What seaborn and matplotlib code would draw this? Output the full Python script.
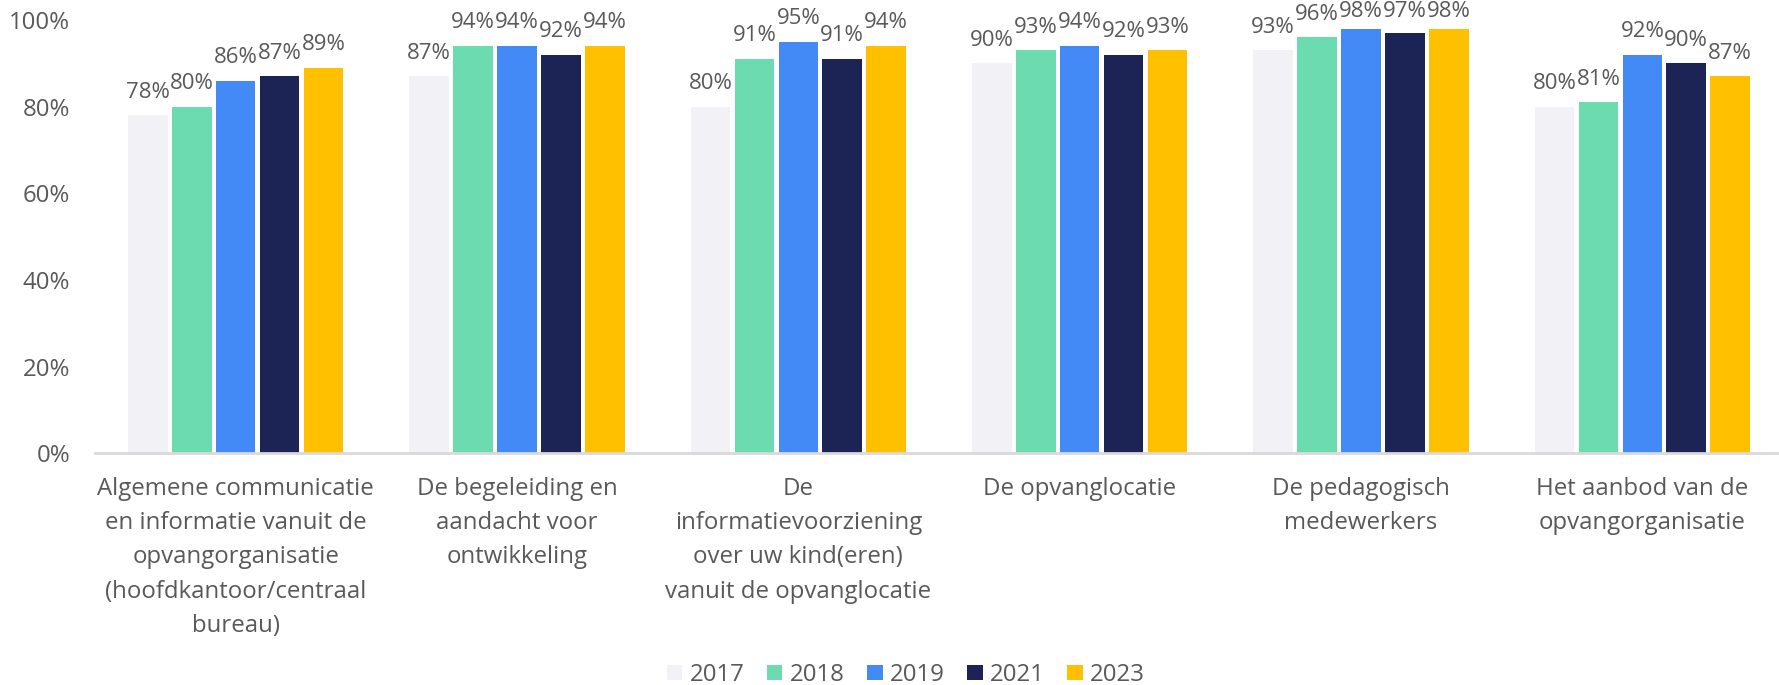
import matplotlib
matplotlib.use("Agg")
import matplotlib.pyplot as plt
import seaborn as sns
import pandas as pd
from matplotlib.patches import Patch

categories = [
    "Algemene communicatie\nen informatie vanuit de\nopvangorganisatie\n(hoofdkantoor/centraal\nbureau)",
    "De begeleiding en\naandacht voor\nontwikkeling",
    "De\ninformatievoorziening\nover uw kind(eren)\nvanuit de opvanglocatie",
    "De opvanglocatie",
    "De pedagogisch\nmedewerkers",
    "Het aanbod van de\nopvangorganisatie",
]
years = ["2017", "2018", "2019", "2021", "2023"]
v2017 = [78, 87, 80, 90, 93, 80]
v2018 = [80, 94, 91, 93, 96, 81]
v2019 = [86, 94, 95, 94, 98, 92]
v2021 = [87, 92, 91, 92, 97, 90]
v2023 = [89, 94, 94, 93, 98, 87]
colors = ["#F1F1F6", "#6CDCB0", "#448AF7", "#1B2455", "#FFC000"]

series = [v2017, v2018, v2019, v2021, v2023]
rows = []
for y, vals in zip(years, series):
    for c, v in zip(categories, vals):
        rows.append({"cat": c, "year": y, "val": v})
df = pd.DataFrame(rows)

sns.set_theme(style="white")
plt.rcParams["font.family"] = ["Open Sans", "DejaVu Sans"]
TXT = "#595959"
FS_X = 17.3
FS_Y = 17.3
FS_LBL = 16.0
FS_LEG = 17.3

fig = plt.figure(figsize=(17.79, 6.85), dpi=100)
ax = fig.add_axes([95 / 1779, (685 - 453.3) / 685, 1688 / 1779, (453.3 - 20) / 685])

sns.barplot(data=df, x="cat", y="val", hue="year", order=categories, hue_order=years,
            palette=colors, saturation=1, width=0.78, gap=0.1, linewidth=0, ax=ax, legend=False)

ax.set_ylim(0, 100)
ax.set_xlim(-0.5, 5.5)
ax.set_yticks([0, 20, 40, 60, 80, 100])
ax.set_yticklabels([f"{t}%" for t in [0, 20, 40, 60, 80, 100]])
ax.set_xlabel("")
ax.set_ylabel("")
for s in ["top", "right", "left"]:
    ax.spines[s].set_visible(False)
ax.spines["bottom"].set_color("#D9D9D9")
ax.spines["bottom"].set_linewidth(2)
ax.tick_params(axis="y", length=0, pad=18, labelsize=FS_Y, labelcolor=TXT)
ax.tick_params(axis="x", length=0, pad=17, labelsize=FS_X, labelcolor=TXT)
for lab in ax.get_xticklabels():
    lab.set_linespacing(1.57)
    lab.set_ha("center")

# data labels: baseline ~17.7 px above bar top, kept inside the chart at the top
px_per_unit = (453.3 - 20) / 100.0
gap = 17.7 / px_per_unit
cap = 100 + 2.7 / px_per_unit
for cont in ax.containers:
    for b in cont:
        h = b.get_height()
        yb = min(h + gap, cap)
        ax.text(b.get_x() + b.get_width() / 2, yb, f"{int(round(h))}%",
                ha="center", va="baseline", fontsize=FS_LBL, color=TXT, clip_on=False)

handles = [Patch(facecolor=c, edgecolor="none") for c in colors]
fig.legend(handles, years, loc="center", bbox_to_anchor=(906 / 1779, 1 - 675 / 685),
           ncol=5, frameon=False, fontsize=FS_LEG, labelcolor=TXT,
           handlelength=0.63, handleheight=0.63, handletextpad=0.3, columnspacing=0.95)

fig.savefig("out.png", dpi=100)
